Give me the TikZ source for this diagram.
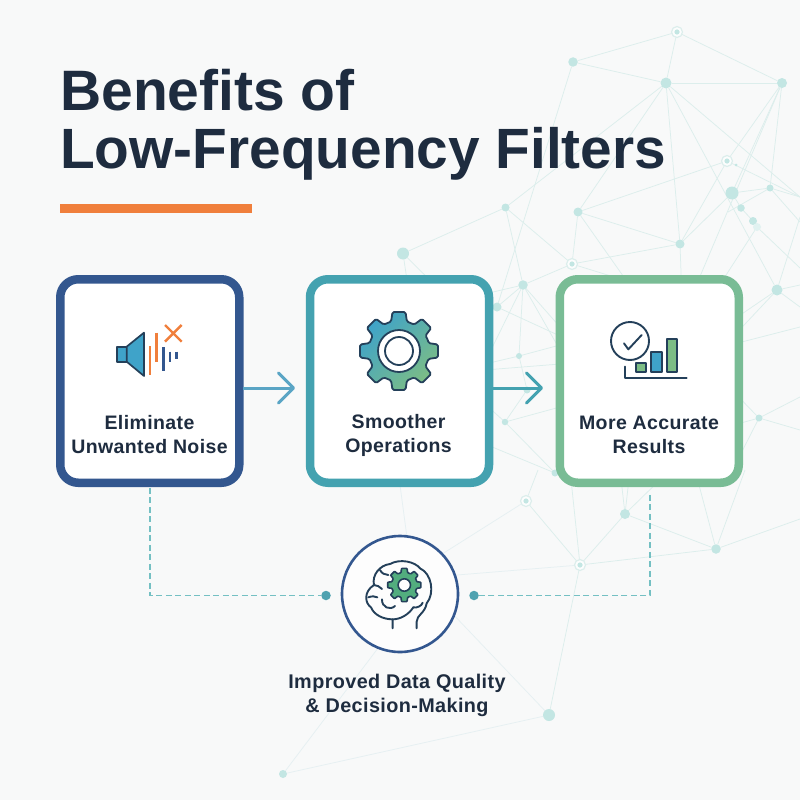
\documentclass[tikz,border=0pt]{standalone}
\usepackage{fontspec}
\setmainfont{Liberation Sans}
\newfontfamily\cardfont{Liberation Sans}[LetterSpace=2]
\usetikzlibrary{arrows.meta}
\pgfdeclarelayer{bg}
\pgfsetlayers{bg,main}
\definecolor{pagebg}{HTML}{F8F9F9}
\definecolor{netline}{HTML}{DCEEEC}
\definecolor{netfaint}{HTML}{E6F0F2}
\definecolor{netfill}{HTML}{C3E6E3}
\definecolor{ink}{HTML}{1E2C3F}
\definecolor{iconink}{HTML}{24405A}
\definecolor{cblue}{HTML}{33578F}
\definecolor{cteal}{HTML}{44A2B0}
\definecolor{cgreen}{HTML}{79BC95}
\definecolor{orangeacc}{HTML}{F07F3C}
\definecolor{skyfill}{HTML}{3FA3C9}
\definecolor{arrowsky}{HTML}{5AA5C5}
\definecolor{dashteal}{HTML}{74C0C3}
\definecolor{dotteal}{HTML}{4FA2B0}
\definecolor{gearfill}{HTML}{52AD7E}
\definecolor{barfill}{HTML}{7CBD85}
\tikzset{
  netdot/.style={circle,fill=netfill,inner sep=0pt,outer sep=0pt,minimum size=#1},
  ringdot/.style={circle,draw=netline,line width=1.2pt,fill=pagebg!40!white,inner sep=0pt,outer sep=0pt,minimum size=11pt},
  netedge/.style={draw=netline,line width=0.75pt},
  netedgefaint/.style={draw=netfaint,line width=0.75pt},
  card/.style={rectangle,rounded corners=18pt,fill=white,line width=8.5pt,inner sep=0pt,outer sep=0pt,minimum width=179pt,minimum height=203.5pt},
  cardtext/.style={font=\fontsize{19.5}{24}\cardfont\bfseries,text=ink,align=center,inner sep=0pt},
  flowarrow/.style={line width=3pt,-{Straight Barb[length=15pt,width=30pt,line width=3pt,round]}},
  dashlink/.style={draw=dashteal,line width=1.7pt,dash pattern=on 6pt off 3.5pt},
  enddot/.style={circle,fill=dotteal,inner sep=0pt,outer sep=0pt,minimum size=9.5pt},
  iconline/.style={draw=iconink,line width=1.9pt,line cap=round,line join=round},
}
\begin{document}
\begin{tikzpicture}[x=1pt,y=-1pt]
\useasboundingbox (0,0) rectangle (800,800);
\begin{pgfonlayer}{bg}
\fill[pagebg] (0,0) rectangle (800,800);
\end{pgfonlayer}
\clip (0,0) rectangle (800,800);
% network dots
\foreach \n/\x/\y/\d in {
 B/573/62/9.5,C/666/83/11,D/782/83/10,F/732/193/13,G/770/188/7,H/741/208/7.5,I/753/221/8,
 K/505.5/207.5/8,L/578/212/9,M/680/244/9,O/523/285/9.5,P/777/290/11,Q/403/253.5/12,S/497/307/9,
 T/519/356/6,U/527/390/7,UU/505/422/6.5,BB/555/473/7,V/759/418/7,X/625/514/10,Z/716/549/9.5,AA/549/715/12,AB/283/774/8,
 SM/736/165/3}
  {\node[netdot=\d pt] (\n) at (\x,\y) {};}
\node[netdot=8pt,fill=netfill!50!white] (J) at (757,227) {};
\foreach \n/\x/\y in {A/677/32,E/727/161,N/572/264,W/526/501,Y/580/565}{
  \node[ringdot] (\n) at (\x,\y) {};
  \fill[netfill] (\n) circle (2.6);
}
% free ends of the network lines
\foreach \n/\x/\y in {
 r1/800/197,r2/800/217,r3/800/268,r4/800/285,r5/800/307,r6/800/327,r7/800/397,r8/800/430,r9/800/519,r10/800/222,
 h1/690/300,h2/640/285,h3/640/300,h4/682/300,h5/710/300,h6/728/212,h7/450/300,h8/410/300,h9/490/352,h10/560/350,
 h11/560/336,h12/560/327,h13/485/364,h14/560/345,h15/485/370,h16/560/364,h17/560/407,h18/485/404,h19/485/444,
 h20/730/340,h21/730/322,h22/730/345,h23/730/426,h24/730/475,h25/730/388,h26/538/470,h27/570/470,h28/620/470,
 h29/630/470,h30/670/470,h31/695/470,h32/745/470,h33/398/470,h34/410/560,h35/420/568,h36/420/578,h37/430/590,h38/403/615,
 h39/493/292}
  {\coordinate (\n) at (\x,\y);}
\begin{pgfonlayer}{bg}
\foreach \a/\b in {
 A/B,A/C,A/D,B/C,C/D,B/S,C/K,C/L,C/M,C/P,C/r1,D/E,D/F,D/G,D/h1,E/L,E/r1,F/M,E/M,F/G,G/r1,G/h6,G/r10,F/H,H/I,I/J,J/h5,J/r3,
 P/r2,P/r4,P/r5,P/h20,P/h21,L/M,L/N,L/h3,K/N,K/O,K/Q,N/M,N/O,N/h2,M/h4,Q/h7,Q/h8,O/h39,O/T,O/h9,O/h10,O/h12,O/S,
 T/h13,T/h14,T/U,h15/h16,S/h11,UU/h17,UU/U,UU/h18,UU/BB,h19/BB,
 r6/h22,V/r7,V/r8,V/h23,V/h24,V/h25,W/Y,W/h26,Y/X,Y/Z,Y/AA,Y/h27,X/Z,X/h28,X/h29,X/h30,Z/h31,Z/h32,Z/r9}
  {\draw[netedge] (\a) -- (\b);}
\foreach \a/\b in {W/h35,Y/h36,h33/h34,AA/h37,AB/h38,AB/AA}
  {\draw[netedgefaint] (\a) -- (\b);}
\end{pgfonlayer}
% title
\node[anchor=base west,inner sep=0pt,text=ink,font=\fontsize{57}{58}\selectfont\bfseries] (t1) at (60,110) {Benefits of};
\node[anchor=base west,inner sep=0pt,text=ink,font=\fontsize{56.8}{58}\selectfont\bfseries] (t2) at (60,168) {Low-Frequency Filters};
\fill[orangeacc] (60,204) rectangle (252,212.5);
% cards
\node[card,draw=cblue] (b1) at (149.75,381) {};
\node[card,draw=cteal] (b2) at (399.5,381) {};
\node[card,draw=cgreen] (b3) at (649.25,381) {};
\node[cardtext] (l1) at (149.5,435) {Eliminate\\Unwanted Noise};
\node[cardtext] (l2) at (398.5,435) {Smoother\\Operations};
\node[cardtext] (l3) at (649,435) {More Accurate\\Results};
% arrows
\coordinate (tip1) at (295,388);
\coordinate (tip2) at (543,388);
\draw[flowarrow,draw=arrowsky] (b1.east |- tip1) ++(4,0) -- (tip1);
\draw[flowarrow,draw=cteal] (b2.east |- tip2) ++(4,0) -- (tip2);
% bottom circle and links
\node[circle,draw=cblue,line width=2.6pt,fill=white!70!pagebg,inner sep=0pt,outer sep=0pt,minimum size=116pt] (brain) at (400,594) {};
\node[enddot] (e1) at (326,595.5) {};
\node[enddot] (e2) at (474,595.5) {};
\coordinate (bend1) at (150,595.5);
\coordinate (bend2) at (650,595.5);
\draw[dashlink] (b1.south -| bend1) ++(0,5) -- (bend1) -- (e1);
\draw[dashlink] (b3.south -| bend2) ++(0,12) -- (bend2) -- (e2);
\node[cardtext,font=\fontsize{19.8}{24}\cardfont\bfseries] (l4) at (397,695) {Improved Data Quality\\\& Decision-Making};
% speaker icon
\begin{scope}[shift={(50,270)},scale=1/3]
 \draw[iconline,fill=skyfill,line width=1.7pt] (201,230) rectangle (230,275);
 \draw[iconline,fill=skyfill,line width=1.7pt] (230,230) -- (282,188) -- (282,318) -- (230,275) -- cycle;
 \draw[line width=2.4pt,draw=orangeacc] (300,228) -- (300,315) (320,188) -- (320,275);
 \draw[line width=2.4pt,draw=cblue] (340,232) -- (340,303) (360,245) -- (360,275) (380,245) -- (380,267);
 \draw[line width=2.4pt,draw=orangeacc] (345,165) -- (395,215) (395,165) -- (345,215);
\end{scope}
% large gear icon
\begin{scope}[shift={(399,351)}]
 \draw[iconline,left color=skyfill,right color=barfill,shading angle=45,line width=1.8pt,rounded corners=1.5pt]
  (-22.5:31) \foreach \a in {0,45,...,315}{ -- ({\a-15}:30.5) -- ({\a-9.5}:39.5) -- ({\a+9.5}:39.5) -- ({\a+15}:30.5) } -- cycle;
 \draw[iconline,fill=white,line width=1.8pt] (0,0) circle (21);
 \draw[iconline,fill=white,line width=1.8pt] (0,0) circle (14);
\end{scope}
% chart icon
\begin{scope}[shift={(550,270)},scale=1/3]
 \draw[iconline] (240,213) circle (57);
 \draw[iconline] (222,220) -- (235,238) -- (275,195);
 \draw[iconline,fill=barfill,line width=1.7pt] (257,280) rectangle (287,305);
 \draw[iconline,fill=skyfill,line width=1.7pt] (303,247) rectangle (335,305);
 \draw[iconline,fill=barfill,line width=1.7pt] (350,207) rectangle (382,305);
 \draw[iconline] (225,290) -- (225,323) -- (410,323);
\end{scope}
% brain icon
\begin{scope}[shift={(300,520)},scale=1/3]
 \draw[iconline] (278,325) -- (278,298) .. controls (250,298) and (222,285) .. (213,262)
   .. controls (195,250) and (190,215) .. (222,195)
   .. controls (215,165) and (240,135) .. (270,132)
   .. controls (300,115) and (345,125) .. (360,145)
   .. controls (395,160) and (405,220) .. (380,250)
   .. controls (375,280) and (350,285) .. (350,305) -- (350,325);
 \draw[iconline] (278,298) .. controls (300,298) and (325,285) .. (340,262);
 \draw[iconline] (222,195) .. controls (230,195) and (240,200) .. (246,207);
 \draw[iconline] (240,150) .. controls (245,160) and (255,165) .. (265,165);
 \draw[iconline] (205,232) .. controls (215,228) and (225,228) .. (232,232);
 \draw[iconline] (246,238) .. controls (245,262) and (270,272) .. (285,258);
 \draw[iconline] (340,262) .. controls (350,265) and (365,258) .. (368,248);
\end{scope}
\begin{scope}[shift={(404.3,585)}]
 \draw[iconline,fill=gearfill,line width=1.6pt,rounded corners=0.6pt]
  (-22.5:13) \foreach \a in {0,45,...,315}{ -- ({\a-15}:12.8) -- ({\a-9.5}:16.8) -- ({\a+9.5}:16.8) -- ({\a+15}:12.8) } -- cycle;
 \draw[iconline,fill=white,line width=1.6pt] (0,0) circle (6.2);
\end{scope}
\end{tikzpicture}
\end{document}
